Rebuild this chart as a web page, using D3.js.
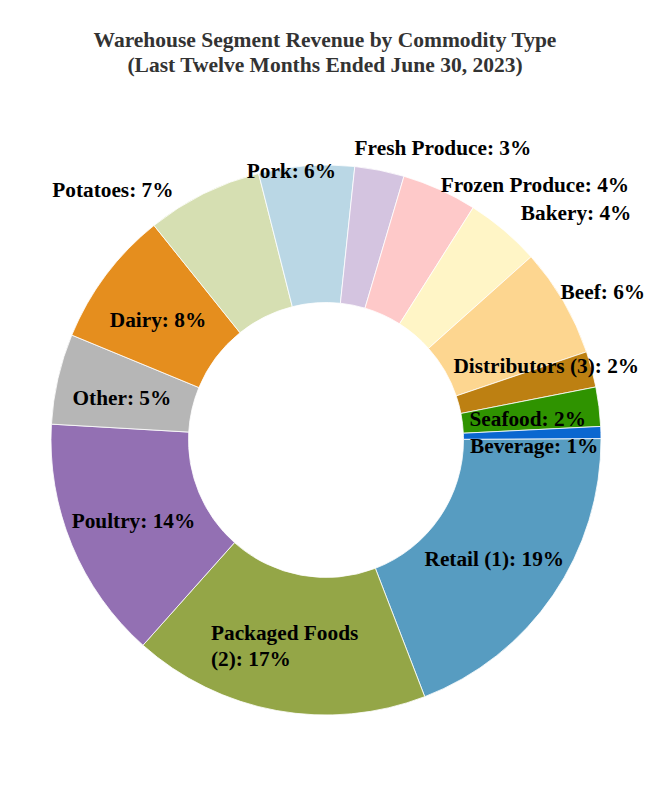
<!DOCTYPE html>
<html>
<head>
<meta charset="utf-8">
<script src="https://cdn.jsdelivr.net/npm/d3@7"></script>
<style>
  body { margin: 0; background: #fff; }
  #chart { width: 650px; height: 800px; }
  .slice { stroke: #fff; stroke-width: 0.8px; }
  .label { font-family: "Liberation Serif", "Times New Roman", serif; font-weight: bold; font-size: 21.3px; fill: #000; }
  .title { font-family: "Liberation Serif", "Times New Roman", serif; font-weight: bold; font-size: 21.5px; fill: #333; }
</style>
</head>
<body>
<div id="chart"></div>
<script>
// Data (share of revenue, %), clockwise from 3 o'clock
const categories = [
    "Retail (1)", "Packaged Foods (2)", "Poultry", "Other", "Dairy", "Potatoes", "Pork",
    "Fresh Produce", "Frozen Produce", "Bakery", "Beef", "Distributors (3)", "Seafood", "Beverage"
];
const shares = [19.2, 17.4, 14.3, 5.3, 8.0, 6.8, 5.6, 2.9, 4.4, 4.4, 6.4, 2.1, 2.3, 0.7];
const colors = [
    "#579cc1", "#94a647", "#9370b3", "#b6b6b6", "#e58e1e", "#d6dfb2", "#bad7e5",
    "#d4c4e0", "#fec9c9", "#fff5c6", "#fdd690", "#bd8012", "#2f9300", "#0a67d0"
];
const titleLines = [
    "Warehouse Segment Revenue by Commodity Type",
    "(Last Twelve Months Ended June 30, 2023)"
];

// label layout: where the label sits ("in" = middle of ring, "out" = outer edge) plus a nudge
const labelPlace = ["in", "in", "in", "in", "in", "out", "out", "out", "out", "out", "out", "in", "in", "in"];
const labelAnchor = ["middle", "start", "middle", "middle", "middle", "end", "middle", "start", "start", "start", "start", "middle", "middle", "middle"];
const labelNudge = [
    [-2, 2], [-78, -10], [-2, 2], [-3, 3], [-3, 3], [-30, -4], [-15, 5],
    [-25, -23], [1, -5], [17, -18], [-3, -10], [21, -21], [-3, 4], [2, 11]
];

const width = 650, height = 800;
const cx = 326, cy = 440;
const outerR = 275, innerR = 137.5;

const svg = d3.select("#chart")
    .append("svg")
    .attr("width", width)
    .attr("height", height);

// Title
svg.append("g")
    .selectAll("text")
    .data(titleLines)
    .join("text")
    .attr("class", "title")
    .attr("x", width / 2)
    .attr("y", (d, i) => 47 + i * 25)
    .attr("text-anchor", "middle")
    .text(d => d);

const slices = categories.map((c, i) => ({ name: c, value: shares[i], color: colors[i], idx: i }));

// d3 angles start at 12 o'clock; Retail starts just above 3 o'clock
const start = (89.7 / 180) * Math.PI;
const pie = d3.pie()
    .sort(null)
    .value(d => d.value)
    .startAngle(start)
    .endAngle(start + 2 * Math.PI);

const arc = d3.arc().innerRadius(innerR).outerRadius(outerR);
const arcs = pie(slices);

const g = svg.append("g").attr("transform", `translate(${cx}, ${cy})`);

g.selectAll("path")
    .data(arcs)
    .join("path")
    .attr("class", "slice")
    .attr("d", arc)
    .attr("fill", d => d.data.color);

// Labels
function labelText(d) {
    const pct = Math.round(d.data.value) + "%";
    if (d.data.name === "Packaged Foods (2)") return ["Packaged Foods", "(2): " + pct];
    return [d.data.name + ": " + pct];
}

const midR = (innerR + outerR) / 2;
arcs.forEach(d => {
    const i = d.data.idx;
    const mid = (d.startAngle + d.endAngle) / 2;
    const r = labelPlace[i] === "in" ? midR : outerR;
    const x = r * Math.sin(mid) + labelNudge[i][0];
    const y = -r * Math.cos(mid) + labelNudge[i][1];
    const lines = labelText(d);
    const t = g.append("text")
        .attr("class", "label")
        .attr("text-anchor", labelAnchor[i])
        .attr("x", x)
        .attr("y", y);
    lines.forEach((ln, k) => {
        t.append("tspan")
            .attr("x", x)
            .attr("dy", k === 0 ? "0.35em" : "1.22em")
            .text(ln);
    });
});
</script>
</body>
</html>
